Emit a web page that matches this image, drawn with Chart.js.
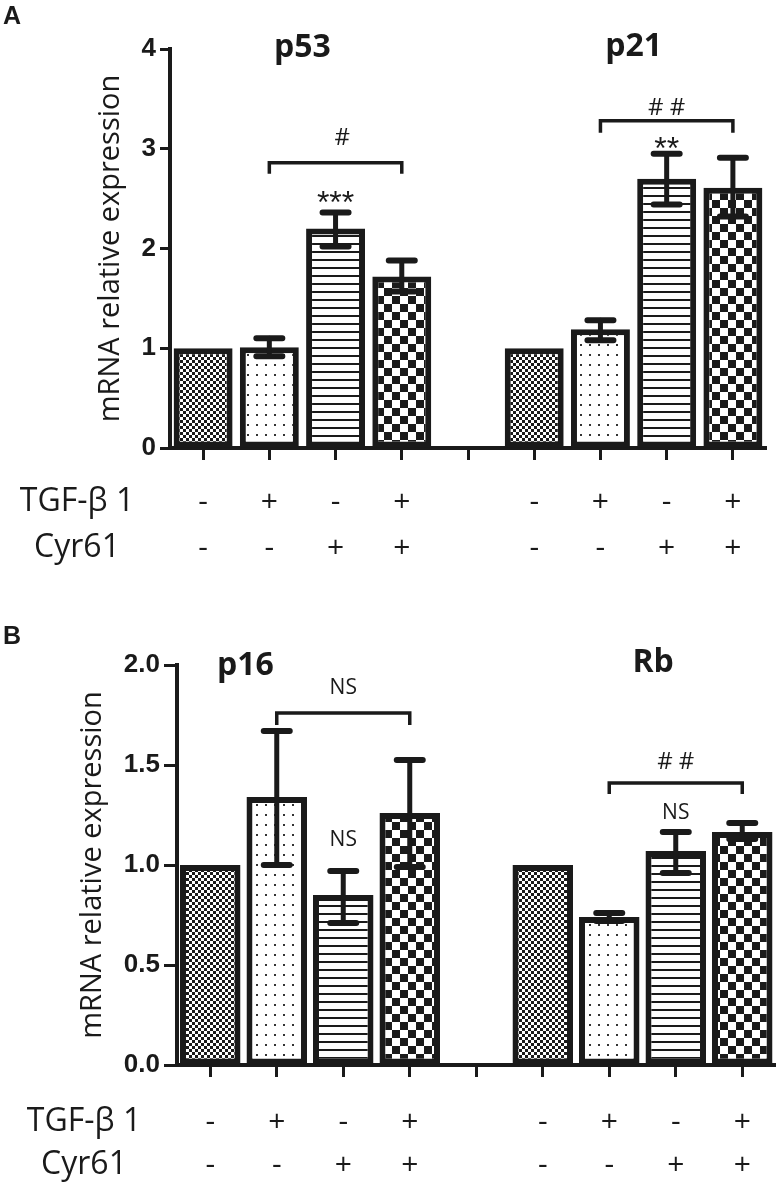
<!DOCTYPE html>
<html>
<head>
<meta charset="utf-8">
<script src="https://cdn.jsdelivr.net/npm/chart.js@4.4.0/dist/chart.umd.min.js"></script>
<style>
  html, body { margin: 0; padding: 0; background: #fff; }
  canvas { display: block; }
</style>
</head>
<body>
<canvas id="chartA" width="782" height="590"></canvas>
<canvas id="chartB" width="782" height="598"></canvas>
<script>
// treatment rows under each bar (index 4 is the gap between the two genes)
const rowNames = ['TGF-β 1', 'Cyr61'];
const tgfSigns = ['-', '+', '-', '+', '', '-', '+', '-', '+'];
const cyrSigns = ['-', '-', '+', '+', '', '-', '-', '+', '+'];

// panel A: p53 (bars 0-3) and p21 (bars 5-8)
const aMeans   = [1.00, 1.01, 2.20, 1.72, null, 1.00, 1.19, 2.70, 2.61];
const aErrLow  = [null, 0.92, 2.02, 1.57, null, null, 1.08, 2.44, 2.32];
const aErrHigh = [null, 1.10, 2.36, 1.88, null, null, 1.28, 2.95, 2.91];
const aTitles = ['p53', 'p21'];
const aTitleCat = [1.5, 6.5];
const aTitleY = [4.01, 4.02];
const aBrackets = [[1, 3, 2.86, 2.75], [6, 8, 3.28, 3.16]]; // from, to, top, foot
const aMarkText = ['#', '***', '# #', '**'];
const aMarkCat = [2.1, 2, 7, 7];
const aMarkY = [3.11, 2.44, 3.41, 2.99];

// panel B: p16 (bars 0-3) and Rb (bars 5-8)
const bMeans   = [1.00, 1.34, 0.85, 1.26, null, 1.00, 0.74, 1.07, 1.165];
const bErrLow  = [null, 1.00, 0.71, 0.99, null, null, 0.72, 0.96, 1.13];
const bErrHigh = [null, 1.67, 0.97, 1.525, null, null, 0.76, 1.165, 1.21];
const bTitles = ['p16', 'Rb'];
const bTitleCat = [0.53, 6.66];
const bTitleY = [1.995, 2.01];
const bBrackets = [[1, 3, 1.76, 1.70], [6, 8, 1.41, 1.355]];
const bMarkText = ['NS', 'NS', '# #', 'NS'];
const bMarkCat = [2, 2, 7, 7];
const bMarkY = [1.885, 1.125, 1.515, 1.26];

const INK = '#1a1a1a';
const yTitle = 'mRNA relative expression';

function makePattern(kind) {
    const c = document.createElement('canvas');
    const g = c.getContext('2d');
    if (kind === 'fine') {
        c.width = 6; c.height = 6;
        g.fillStyle = '#fff'; g.fillRect(0, 0, 6, 6);
        g.fillStyle = INK; g.fillRect(0, 0, 3, 3); g.fillRect(3, 3, 3, 3);
    } else if (kind === 'dots') {
        c.width = 9; c.height = 10;
        g.fillStyle = '#fff'; g.fillRect(0, 0, 9, 10);
        g.fillStyle = '#333'; g.fillRect(4, 4, 2, 2);
    } else if (kind === 'lines') {
        c.width = 4; c.height = 8;
        g.fillStyle = '#fff'; g.fillRect(0, 0, 4, 8);
        g.fillStyle = INK; g.fillRect(0, 3, 4, 2);
    } else {
        c.width = 16; c.height = 16;
        g.fillStyle = '#fff'; g.fillRect(0, 0, 16, 16);
        g.fillStyle = INK; g.fillRect(0, 0, 8, 8); g.fillRect(8, 8, 8, 8);
    }
    return g.createPattern(c, 'repeat');
}

const fills = ['fine', 'dots', 'lines', 'checker'].map(makePattern);
const barFills = [fills[0], fills[1], fills[2], fills[3], '#fff', fills[0], fills[1], fills[2], fills[3]];
const signLabels = tgfSigns.map((t, i) => [t, cyrSigns[i]]);

const errorBars = {
    id: 'errorBars',
    afterDatasetsDraw(chart, args, opts) {
        const ctx = chart.ctx;
        const meta = chart.getDatasetMeta(0);
        const y = chart.scales.y;
        ctx.save();
        ctx.strokeStyle = INK;
        ctx.lineCap = 'round';
        opts.low.forEach((lo, i) => {
            if (lo == null) return;
            const x = meta.data[i].x;
            const yl = y.getPixelForValue(lo);
            const yh = y.getPixelForValue(opts.high[i]);
            ctx.lineWidth = 5;
            ctx.beginPath(); ctx.moveTo(x, yl); ctx.lineTo(x, yh); ctx.stroke();
            ctx.lineWidth = 6;
            ctx.beginPath();
            ctx.moveTo(x - 13, yh); ctx.lineTo(x + 13, yh);
            ctx.moveTo(x - 13, yl); ctx.lineTo(x + 13, yl);
            ctx.stroke();
        });
        ctx.restore();
    }
};

const annotations = {
    id: 'annotations',
    afterDraw(chart, args, o) {
        const { ctx } = chart;
        const x = chart.scales.x, y = chart.scales.y;
        ctx.save();
        ctx.fillStyle = INK;
        ctx.strokeStyle = INK;

        o.brackets.forEach(b => {
            const x1 = x.getPixelForValue(b[0]), x2 = x.getPixelForValue(b[1]);
            const yt = y.getPixelForValue(b[2]), yf = y.getPixelForValue(b[3]);
            ctx.lineWidth = 3.5;
            ctx.beginPath();
            ctx.moveTo(x1, yf); ctx.lineTo(x1, yt); ctx.lineTo(x2, yt); ctx.lineTo(x2, yf);
            ctx.stroke();
        });

        ctx.textAlign = 'center';
        ctx.textBaseline = 'middle';
        o.markText.forEach((t, i) => {
            ctx.font = t.includes('*') ? '32px "Liberation Sans"' : (t === 'NS' ? '21px "Open Sans"' : '24px "Open Sans"');
            ctx.fillText(t, x.getPixelForValue(o.markCat[i]), y.getPixelForValue(o.markY[i]));
        });

        ctx.font = 'bold 32px "Open Sans"';
        o.titles.forEach((t, i) => {
            ctx.fillText(t, x.getPixelForValue(o.titleCat[i]), y.getPixelForValue(o.titleY[i]));
        });

        // row headers line up with the tick label rows
        const xo = chart.options.scales.x;
        const row1 = x.top + xo.grid.tickLength + xo.ticks.padding + o.rowGap / 2;
        ctx.font = '32px "Open Sans"';
        rowNames.forEach((r, i) => ctx.fillText(r, o.rowX, row1 + i * o.rowGap));

        ctx.font = 'bold 25px "Liberation Sans"';
        ctx.textAlign = 'left';
        ctx.fillText(o.letter, 3, o.letterY);

        ctx.translate(o.yTitleX, (y.top + y.bottom) / 2);
        ctx.rotate(-Math.PI / 2);
        ctx.textAlign = 'center';
        ctx.font = '29px "Open Sans"';
        ctx.fillText(yTitle, 0, 0);
        ctx.restore();
    }
};

function buildChart(id, cfg) {
    return new Chart(document.getElementById(id), {
        type: 'bar',
        data: {
            labels: signLabels,
            datasets: [{
                data: cfg.means,
                backgroundColor: barFills,
                borderColor: INK,
                borderWidth: 6,
                borderSkipped: false,
                categoryPercentage: 1,
                barPercentage: cfg.barPct,
            }],
        },
        options: {
            responsive: false,
            animation: false,
            devicePixelRatio: 1,
            layout: { padding: { top: cfg.top, right: cfg.right, left: 0, bottom: 0 } },
            plugins: {
                legend: { display: false },
                tooltip: { enabled: false },
                errorBars: { low: cfg.low, high: cfg.high },
                annotations: cfg.notes,
            },
            scales: {
                x: {
                    grid: { drawOnChartArea: false, offset: false, tickLength: 12, tickWidth: 3, tickColor: INK },
                    border: { color: INK, width: 4 },
                    ticks: {
                        padding: cfg.labelPad,
                        color: INK,
                        autoSkip: false,
                        maxRotation: 0,
                        font: { family: 'Open Sans', size: 30, lineHeight: cfg.notes.rowGap / 30 },
                    },
                    afterFit: s => { s.height = cfg.xHeight; },
                },
                y: {
                    min: 0,
                    max: cfg.max,
                    grid: { drawOnChartArea: false, tickLength: cfg.yTick, tickWidth: 3, tickColor: INK },
                    border: { color: INK, width: 4 },
                    ticks: {
                        stepSize: cfg.step,
                        padding: 4,
                        color: INK,
                        font: { family: 'Liberation Sans', size: 26, weight: 'bold' },
                        callback: v => cfg.step < 1 ? v.toFixed(1) : String(v),
                    },
                    afterFit: s => { s.width = cfg.left; },
                },
            },
        },
        plugins: [errorBars, annotations],
    });
}

buildChart('chartA', {
    means: aMeans, low: aErrLow, high: aErrHigh,
    max: 4, step: 1, barPct: 0.89,
    top: 49, right: 16, left: 170, xHeight: 142, labelPad: 19, yTick: 10,
    notes: {
        brackets: aBrackets, markText: aMarkText, markCat: aMarkCat, markY: aMarkY,
        titles: aTitles, titleCat: aTitleCat, titleY: aTitleY,
        rowGap: 46, rowX: 77, letter: 'A', letterY: 17, yTitleX: 111,
    },
});

buildChart('chartB', {
    means: bMeans, low: bErrLow, high: bErrHigh,
    max: 2, step: 0.5, barPct: 0.91,
    top: 75, right: 6.5, left: 177, xHeight: 123, labelPad: 23.5, yTick: 13,
    notes: {
        brackets: bBrackets, markText: bMarkText, markCat: bMarkCat, markY: bMarkY,
        titles: bTitles, titleCat: bTitleCat, titleY: bTitleY,
        rowGap: 43, rowX: 84, letter: 'B', letterY: 47, yTitleX: 93,
    },
});
</script>
</body>
</html>
